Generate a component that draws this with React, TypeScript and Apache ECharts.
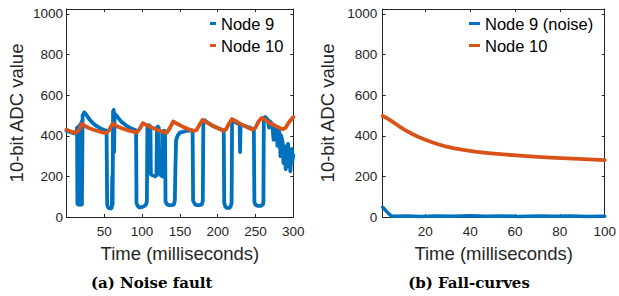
import React, { useEffect, useRef } from "react";
import * as echarts from "echarts";

// ---------- data ----------
// (a) Noise fault: Node 9 (time ms, ADC value)
const node9Noise: [number, number][] = [
  [0, 425], [5, 418], [10, 412], [13, 412],
  [14, 440], [14.4, 65], [15, 440], [15.4, 62], [16, 445], [16.4, 60], [17, 450], [17.4, 62], [18, 455], [18.4, 60], [19, 460], [19.4, 62], [20, 470], [20.4, 62], [21.3, 500],
  [23.5, 515], [26, 505], [30, 482], [35, 462], [40, 447], [45, 436], [50, 428], [53, 425],
  [53.8, 60], [55, 48], [57, 42], [59, 42], [60, 48], [60.5, 200], [61, 62], [61.6, 520], [62.5, 527], [63, 320], [63.6, 510], [66, 500], [69, 485], [73, 468], [79, 450], [85, 437], [91, 428],
  [92, 425], [92.6, 70], [94, 55], [96, 48], [99, 48], [102, 52], [105, 60], [106.3, 75], [107, 440], [109, 452], [111, 445], [111.6, 210], [114, 205], [117, 200], [119, 205], [119.6, 440], [121, 445], [122, 440], [122.6, 215], [125, 205], [127, 200], [127.6, 420], [129, 425], [130.3, 420],
  [131, 75], [133, 62], [136, 58], [139, 58], [142, 62], [143.3, 80], [144, 230], [145, 380], [147, 400], [150, 415], [155, 420], [160, 425], [166.8, 425],
  [167.5, 80], [170, 62], [173, 58], [176, 58], [179, 62], [180.3, 80], [181, 470], [183, 476], [186, 466], [192, 452], [198, 441], [204, 432], [208, 426],
  [208.6, 70], [210, 52], [212, 45], [215, 45], [217, 50], [218.4, 70], [219, 465], [221, 472], [225, 463], [229, 456], [229.6, 320], [230.3, 455], [236, 448], [242, 440], [247.8, 432],
  [248.5, 75], [250, 60], [253, 55], [257, 55], [260, 62], [260.5, 80], [261, 488], [263, 492], [266, 480], [268, 440], [269, 472], [272, 458], [274, 380], [275, 452], [278, 435], [279, 350], [280, 432], [282, 412], [283, 300], [284, 400], [286, 365], [287, 265], [288, 350], [289, 300], [290, 235], [291, 340], [292, 250], [293, 360], [294, 290], [295, 330], [296, 225], [297, 275], [298, 335], [299, 280], [300, 305],
];

// (a) Noise fault: Node 10
const node10NoiseT = [0, 5, 12, 16, 20, 25, 30, 38, 45, 52, 56, 61, 66, 72, 80, 88, 93, 97, 101, 107, 113, 120, 128, 133, 137, 141, 147, 153, 160, 168, 172, 176, 180, 186, 192, 200, 207, 211, 215, 219, 225, 232, 240, 246, 250, 254, 258, 264, 270, 278, 286, 290, 294, 300];
const node10NoiseV = [430, 422, 414, 425, 458, 447, 437, 427, 419, 413, 425, 460, 448, 438, 428, 420, 415, 435, 462, 450, 440, 430, 418, 416, 440, 470, 458, 446, 434, 424, 428, 455, 478, 465, 452, 438, 425, 432, 460, 482, 470, 455, 440, 430, 440, 470, 488, 475, 460, 445, 432, 440, 465, 492];

// (b) Fall-curves
const fallNode10T = [1, 3, 5, 8, 11, 14, 17, 20, 23, 26, 29, 33, 37, 42, 48, 55, 62, 70, 78, 86, 93, 100];
const fallNode10V = [497, 486, 472, 449, 428, 410, 394, 380, 368, 357, 348, 338, 330, 322, 315, 308, 302, 296, 291, 287, 283.5, 280];
const fallNode9T = [1, 2, 3, 4, 5, 6, 12, 18, 25, 32, 40, 47, 55, 62, 70, 78, 85, 92, 100];
const fallNode9V = [48, 36, 24, 13, 5, 4, 5, 3, 5, 4, 6, 4, 5, 3, 5, 4, 5, 3, 4];

const xTicksA = [50, 100, 150, 200, 250, 300];
const xTicksB = [20, 40, 60, 80, 100];
const yTicks = [0, 200, 400, 600, 800, 1000];

// ---------- styles ----------
const BLUE = "#0072BD";
const ORANGE = "#D95319";
const AX = "#262626";
const SANS = "'Liberation Sans', Arial, Helvetica, sans-serif";

const zip = (t: number[], v: number[]) => t.map((x, i) => [x, v[i]]);
const plain = (v: number) => String(v);

function xAxis(grid: number, min: number, max: number, ticks: number[], bottom: boolean) {
  return {
    type: "value",
    gridIndex: grid,
    position: bottom ? "bottom" : "top",
    min,
    max,
    axisLine: { show: true, onZero: false, lineStyle: { color: AX, width: 1 } },
    axisTick: { show: true, inside: true, length: 3, customValues: ticks, lineStyle: { color: AX } },
    axisLabel: { show: bottom, customValues: ticks, formatter: plain, margin: 7, color: AX, fontSize: 13.5, fontFamily: SANS },
    splitLine: { show: false },
    name: bottom ? "Time (milliseconds)" : "",
    nameLocation: "middle",
    nameGap: 27,
    nameTextStyle: { fontSize: 18.5, color: AX, fontFamily: SANS },
  };
}

function yAxis(grid: number, left: boolean, margin: number, gap: number) {
  return {
    type: "value",
    gridIndex: grid,
    position: left ? "left" : "right",
    min: 0,
    max: 1024,
    axisLine: { show: true, onZero: false, lineStyle: { color: AX, width: 1 } },
    axisTick: { show: true, inside: true, length: 3, customValues: yTicks, lineStyle: { color: AX } },
    axisLabel: { show: left, customValues: yTicks, formatter: plain, margin, color: AX, fontSize: 13.5, fontFamily: SANS },
    splitLine: { show: false },
    name: left ? "10-bit ADC value" : "",
    nameLocation: "middle",
    nameGap: gap,
    nameTextStyle: { fontSize: 18.5, color: AX, fontFamily: SANS },
  };
}

function line(name: string, data: any, color: string, xi: number, yi: number, width: number) {
  return {
    type: "line",
    name,
    data,
    xAxisIndex: xi,
    yAxisIndex: yi,
    showSymbol: false,
    symbol: "none",
    smooth: false,
    color,
    lineStyle: { color, width, join: "round", cap: "round" },
    emphasis: { disabled: true },
  };
}

const legendText = { fontSize: 16.5, color: "#000", fontFamily: SANS };

const option: any = {
  animation: false,
  backgroundColor: "#ffffff",
  grid: [
    { left: 66.5, top: 9, width: 226.8, height: 208, containLabel: false },
    { left: 382.7, top: 9, width: 226.6, height: 208, containLabel: false },
  ],
  xAxis: [
    xAxis(0, 0, 300, xTicksA, true),
    xAxis(0, 0, 300, xTicksA, false),
    xAxis(1, 1, 100, xTicksB, true),
    xAxis(1, 1, 100, xTicksB, false),
  ],
  yAxis: [
    yAxis(0, true, 3.5, 41),
    yAxis(0, false, 3.5, 41),
    yAxis(1, true, 5.5, 46),
    yAxis(1, false, 5.5, 46),
  ],
  legend: [
    {
      data: ["Node 9", "Node 10"],
      left: 210,
      top: 15,
      padding: 0,
      orient: "vertical",
      icon: "rect",
      itemWidth: 6,
      itemHeight: 3,
      itemGap: 5,
      selectedMode: false,
      textStyle: legendText,
    },
    {
      data: ["Node 9 (noise)", "Node 10"],
      left: 469,
      top: 15,
      padding: 0,
      orient: "vertical",
      icon: "rect",
      itemWidth: 11,
      itemHeight: 3,
      itemGap: 5,
      selectedMode: false,
      textStyle: legendText,
    },
  ],
  series: [
    line("Node 9", node9Noise, BLUE, 0, 0, 3.8),
    line("Node 10", zip(node10NoiseT, node10NoiseV), ORANGE, 0, 0, 3.8),
    line("Node 9 (noise)", zip(fallNode9T, fallNode9V), BLUE, 2, 2, 3.5),
    line("Node 10", zip(fallNode10T, fallNode10V), ORANGE, 2, 2, 3.8),
  ],
  graphic: [
    {
      type: "text",
      x: 151.7,
      y: 283,
      style: { text: "(a) Noise fault", fontSize: 15, fontWeight: "bold", fontFamily: "'DejaVu Serif', serif", fill: "#000", align: "center", verticalAlign: "middle" },
    },
    {
      type: "text",
      x: 469,
      y: 283,
      style: { text: "(b) Fall-curves", fontSize: 15, fontWeight: "bold", fontFamily: "'DejaVu Serif', serif", fill: "#000", align: "center", verticalAlign: "middle" },
    },
  ],
};

export default function App() {
  const ref = useRef<HTMLDivElement>(null);
  useEffect(() => {
    const chart = echarts.init(ref.current as HTMLDivElement, null, { renderer: "svg" });
    chart.setOption(option);
    return () => chart.dispose();
  }, []);
  return (
    <div
      ref={ref}
      style={{ position: "absolute", left: 0, top: 0, width: 619, height: 296, background: "#fff" }}
    />
  );
}
